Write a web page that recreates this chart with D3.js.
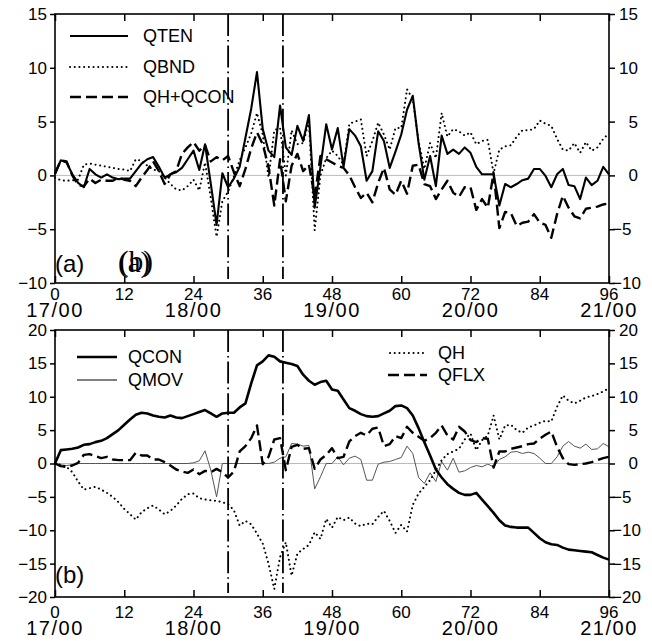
<!DOCTYPE html>
<html>
<head>
<meta charset="utf-8">
<script src="https://cdn.jsdelivr.net/npm/d3@7"></script>
<style>
  body { margin: 0; background: #fff; }
  svg { display: block; }
  text { font-family: "Liberation Sans", Arial, sans-serif; fill: #000; }
</style>
</head>
<body>
<svg width="652" height="641"></svg>
<script>
// hourly values, hour 0 .. 96
const hours = d3.range(0, 97)

// panel (a)
const qten = [0.1, 1.4, 1.2, 0.1, -0.7, -1.1, 0.6, 0.1, -0.2, 0.1, -0.2, -0.35, -0.3, -0.3, 0.4, 1.1, 1.5, 1.7, 0.8, -0.2,
  0.1, 0.3, 0.7, 1.5, 2.3, 0.5, 2.9, -0.8, -4.6, 0.2, -1.1, -0.3, 0.8, 3.5, 6.2, 9.6, 4.3, 2.3, 1.7, 6.5,
  2.6, 1.9, 4.6, 3.2, 5.6, -3.0, 0.8, 4.75, 2.4, 4.4, 0.8, 4.3, 3.7, 2.7, -0.5, 0.4, 4.1, 3.2, 0.7, 2.2,
  3.8, 6.1, 7.4, 3.0, -0.4, 1.8, -1.0, 3.7, 2.0, 2.4, 2.0, 2.6, 2.1, 0.8, 0.1, 0.1, 0.1, -2.8, -0.8, -1.1,
  -0.8, -0.45, -0.3, 0.6, 0.6, -0.05, -1.1, 0.1, 0.6, -0.9, -1.0, -2.2, -0.2, -0.9, -0.5, 0.8, 0.1]
const qbnd = [-0.2, -0.45, -0.5, -0.45, -0.4, 1.0, 1.1, 1.0, 0.9, 0.8, 0.7, 0.6, 0.55, 0.4, 1.5, 1.35, 0.9, 0.55, 0.4, -0.2,
  -0.8, -1.3, -1.4, -1.0, -0.4, -1.4, 1.2, -2.1, -5.7, -2.4, -1.5, -0.1, 1.4, 2.6, 3.9, 5.8, 3.8, -0.2, 4.2, 4.4,
  0.0, 4.2, 2.9, 3.0, 5.0, -5.1, 0.0, 1.6, 2.3, 1.8, 1.0, 4.8, 5.0, 5.2, 1.8, 3.2, 4.9, 3.8, 2.4, 4.4,
  4.4, 8.0, 7.1, 3.2, 0.6, 3.0, 1.6, 5.8, 3.6, 4.3, 4.1, 3.7, 4.0, 2.9, 3.2, 3.3, 0.2, 2.4, 2.7, 2.8,
  3.6, 4.2, 4.2, 4.3, 5.1, 4.8, 4.6, 3.4, 2.4, 2.3, 3.0, 2.1, 3.1, 2.3, 2.6, 3.4, 3.9]
const qhQcon = [0.2, 1.4, 1.3, 0.0, -0.9, -1.0, -0.3, -0.7, -0.4, -0.5, -0.5, -0.2, -0.4, -0.5, -1.0, -0.2, 0.5, 1.3, 0.4, -0.8,
  0.1, 0.4, 2.0, 2.6, 3.1, 2.3, 2.8, 1.3, 1.7, 1.4, 1.8, 0.3, -1.0, 0.6, 2.5, 4.0, 2.9, 0.8, -2.8, 1.5,
  -2.4, 0.9, 2.0, 0.4, 1.0, -2.0, 1.8, 1.5, 1.2, 0.9, 0.7, 0.0, -1.1, -2.1, -1.6, -2.5, -0.7, 0.7, -1.3, -1.8,
  -0.5, -1.7, 0.9, 1.0, -0.8, -1.0, -2.2, -1.3, -0.5, -1.6, -2.0, -1.1, -1.1, -3.2, -2.2, -3.0, 0.2, -4.9, -3.4, -3.5,
  -4.7, -4.4, -4.3, -3.6, -4.4, -4.6, -5.8, -3.6, -1.9, -3.0, -3.8, -4.0, -3.1, -3.0, -2.9, -2.7, -2.6]

// panel (b)
const qcon = [0, 2.0, 2.1, 2.2, 2.4, 2.8, 2.9, 3.2, 3.4, 3.8, 4.4, 5.0, 5.8, 6.6, 7.3, 7.6, 7.5, 7.2, 7.0, 6.9,
  7.2, 6.9, 6.8, 7.1, 7.4, 7.7, 8.0, 7.5, 7.0, 7.5, 7.6, 7.6, 8.4, 9.0, 12.0, 14.7, 15.3, 16.2, 16.0, 15.3,
  15.1, 14.9, 14.6, 13.3, 12.4, 11.8, 12.2, 12.4, 11.1, 10.9, 9.6, 8.3, 7.9, 7.4, 7.1, 7.0, 7.1, 7.5, 7.9, 8.6,
  8.7, 8.3, 7.2, 5.3, 3.2, 1.2, -0.9, -2.1, -3.1, -3.8, -4.4, -4.7, -4.7, -4.4, -5.4, -6.4, -7.4, -8.5, -9.3, -9.5,
  -9.6, -9.6, -9.6, -10.4, -11.2, -11.8, -12.1, -12.2, -12.6, -12.9, -13.0, -13.1, -13.2, -13.3, -13.7, -14.1, -14.4]
const qmov = [0, -0.2, -0.3, -0.2, 0, 0, 0, 0, 0, 0, 0, 0, 0, 0, 0, 0, 0, 0, 0, 0,
  0, 0, 0, 0, 0.1, 0.4, 1.9, -1.0, -5.0, 0.0, 0, 0, 0, 0, 0, 0, 0, 0, 0.2, 0.8,
  1.0, 3.0, 2.9, 2.6, 2.7, -3.8, -2.0, 0.0, 0.0, 1.0, -0.2, 0.8, 1.1, 0.6, -2.5, -2.5, -0.1, 0.2, 0.3, 0.6,
  0.9, 2.6, 1.5, -2.1, -3.0, -1.4, -2.7, 0.3, -1.0, 0.8, -1.3, -1.1, -0.6, -0.3, -0.5, -0.1, -0.5, 0.6, 1.0, 1.7,
  1.8, 1.5, 1.7, 1.5, 0.8, 0.0, 0.0, 1.0, 2.6, 3.3, 2.6, 2.3, 2.9, 2.1, 2.2, 3.0, 2.5]
const qh = [0, -0.2, -0.5, -1.3, -2.7, -3.9, -3.7, -3.5, -3.9, -4.4, -5.0, -5.8, -6.8, -7.6, -8.4, -7.3, -6.7, -6.3, -6.9, -7.6,
  -7.1, -6.3, -5.3, -4.6, -4.5, -5.2, -5.4, -5.5, -5.6, -5.8, -6.1, -7.0, -9.3, -8.6, -9.1, -10.5, -12.0, -15.0, -18.8, -14.0,
  -11.8, -16.8, -13.5, -12.8, -12.2, -10.3, -11.3, -8.3, -9.6, -8.0, -8.5, -8.1, -9.0, -9.4, -9.0, -9.1, -8.0, -7.1, -8.6, -10.4,
  -9.2, -10.2, -6.2, -4.5, -3.5, -2.5, -1.0, 0.5, 1.4, 1.8, 2.2, 3.6, 4.5, 2.0, 3.5, 4.2, 7.2, 3.6, 5.7, 5.8,
  5.0, 4.6, 5.4, 5.7, 6.1, 6.4, 6.3, 8.5, 10.2, 9.4, 9.0, 9.4, 9.9, 10.1, 10.4, 10.8, 11.3]
const qflx = [0, -0.4, -0.5, -0.3, 0.1, 1.3, 1.4, 1.1, 0.8, 1.0, 0.6, 0.5, 0.5, 0.5, 1.6, 1.2, 1.2, 0.6, 0.6, 0.2,
  -0.3, -0.9, -1.2, -1.4, -0.9, -1.6, -1.1, -1.3, -0.8, -1.3, -2.1, -1.2, 1.8, 2.6, 3.8, 5.7, -0.1, 1.0, 3.6, 3.8,
  -1.0, 2.5, 2.8, 2.2, 2.3, -0.8, 0.6, 1.3, 2.3, 0.8, 1.0, 3.3, 4.1, 4.6, 4.2, 5.2, 5.4, 2.6, 2.9, 4.1,
  3.8, 5.5, 4.6, 4.0, 3.4, 3.8, 4.6, 5.7, 4.2, 3.6, 5.5, 4.8, 3.5, 3.2, 3.8, 3.7, -0.6, 1.8, 1.8, 2.2,
  2.4, 2.6, 2.9, 3.0, 3.7, 4.3, 4.8, 2.5, 0.8, -0.1, -0.2, -0.1, 0.0, 0.2, 0.5, 0.8, 1.0]

// axes
const xTicks = [0, 12, 24, 36, 48, 60, 72, 84, 96]
const dateTicks = [0, 24, 48, 72, 96]
const dateLabels = ["17/00", "18/00", "19/00", "20/00", "21/00"]
const yTicksA = [15, 10, 5, 0, -5, -10]
const yTicksB = [20, 15, 10, 5, 0, -5, -10, -15, -20]
const markHours = [30, 39.5]

const svg = d3.select("svg")

const x = d3.scaleLinear().domain([0, 96]).range([55, 609])
const yA = d3.scaleLinear().domain([-10, 15]).range([283, 14])
const yB = d3.scaleLinear().domain([-20, 20]).range([597, 330])

const styles = {
  solid: { width: 2.1, dash: null, color: "#000", cap: "butt" },
  thin: { width: 1, dash: null, color: "#555", cap: "butt" },
  dotted: { width: 2, dash: "0.1,4.6", color: "#000", cap: "round" },
  dashed: { width: 2.4, dash: "11,5", color: "#000", cap: "butt" },
  thick: { width: 2.6, dash: null, color: "#000", cap: "butt" }
}

function drawPanel(y, yTicks, series, numY, dateY) {
  const g = svg.append("g")
  const [top, bottom] = [y.range()[1], y.range()[0]]

  // zero line
  g.append("line")
    .attr("x1", x(0)).attr("x2", x(96))
    .attr("y1", y(0)).attr("y2", y(0))
    .attr("stroke", "#bbb").attr("stroke-width", 1)

  // series
  series.forEach(s => {
    const st = styles[s.style]
    g.append("path")
      .datum(hours)
      .attr("fill", "none")
      .attr("stroke", st.color)
      .attr("stroke-width", st.width)
      .attr("stroke-dasharray", st.dash)
      .attr("stroke-linecap", st.cap)
      .attr("stroke-linejoin", "round")
      .attr("d", d3.line().x(h => x(h)).y(h => y(s.values[h])))
  })

  // dash-dot markers
  g.selectAll(".mark")
    .data(markHours)
    .enter()
    .append("line")
    .attr("x1", d => x(d)).attr("x2", d => x(d))
    .attr("y1", top).attr("y2", bottom - 4)
    .attr("stroke", "#000").attr("stroke-width", 1.8)
    .attr("stroke-dasharray", "22,4,1.6,4")

  // frame
  g.append("rect")
    .attr("x", x(0)).attr("y", top)
    .attr("width", x(96) - x(0)).attr("height", bottom - top)
    .attr("fill", "none").attr("stroke", "#000").attr("stroke-width", 1.6)

  // y axes
  const left = g.append("g").attr("transform", `translate(${x(0)},0)`)
    .call(d3.axisLeft(y).tickValues(yTicks).tickSize(5).tickPadding(3).tickSizeOuter(0))
  const right = g.append("g").attr("transform", `translate(${x(96)},0)`)
    .call(d3.axisRight(y).tickValues(yTicks).tickSize(6).tickSizeOuter(0))
  right.selectAll("text")
    .attr("x", d => d < 0 ? 3 : 29)
    .attr("text-anchor", d => d < 0 ? "start" : "end")

  // x ticks, inward at top and bottom
  const topAx = g.append("g").attr("transform", `translate(0,${top})`)
    .call(d3.axisTop(x).tickValues(xTicks).tickSize(-7).tickFormat(""))
  const botAx = g.append("g").attr("transform", `translate(0,${bottom})`)
    .call(d3.axisBottom(x).tickValues(xTicks).tickSize(-7).tickFormat(""))

  ;[left, right, topAx, botAx].forEach(a => {
    a.select(".domain").remove()
    a.selectAll("line").attr("stroke", "#000").attr("stroke-width", 1.5)
    a.selectAll("text").style("font-family", null).attr("font-size", 17).attr("fill", "#000")
  })

  g.selectAll(".num")
    .data(xTicks)
    .enter()
    .append("text")
    .attr("x", d => x(d)).attr("y", numY)
    .attr("text-anchor", "middle").attr("font-size", 17)
    .text(d => d)

  g.selectAll(".date")
    .data(dateTicks)
    .enter()
    .append("text")
    .attr("x", d => x(d)).attr("y", dateY)
    .attr("text-anchor", "middle").attr("font-size", 20)
    .attr("letter-spacing", 1.5)
    .text((d, i) => dateLabels[i])

  return g
}

function legend(g, items) {
  items.forEach(it => {
    const st = styles[it.style]
    g.append("line")
      .attr("x1", it.x).attr("x2", it.x + it.len)
      .attr("y1", it.y).attr("y2", it.y)
      .attr("stroke", it.style === "thin" ? "#000" : st.color)
      .attr("stroke-width", st.width)
      .attr("stroke-dasharray", st.dash)
      .attr("stroke-linecap", st.cap)
    g.append("text")
      .attr("x", it.x + it.len + it.gap).attr("y", it.y)
      .attr("dy", "0.36em").attr("font-size", 18)
      .text(it.name)
  })
}

const gA = drawPanel(yA, yTicksA, [
  { values: qbnd, style: "dotted" },
  { values: qhQcon, style: "dashed" },
  { values: qten, style: "solid" }
], 300, 317)

const gB = drawPanel(yB, yTicksB, [
  { values: qmov, style: "thin" },
  { values: qh, style: "dotted" },
  { values: qflx, style: "dashed" },
  { values: qcon, style: "thick" }
], 618, 635)

legend(gA, [
  { name: "QTEN", style: "solid", x: 70, y: 36, len: 58, gap: 15 },
  { name: "QBND", style: "dotted", x: 70, y: 67, len: 58, gap: 15 },
  { name: "QH+QCON", style: "dashed", x: 70, y: 97, len: 58, gap: 15 }
])
legend(gB, [
  { name: "QCON", style: "thick", x: 77, y: 357, len: 40, gap: 11 },
  { name: "QMOV", style: "thin", x: 77, y: 380, len: 40, gap: 11 },
  { name: "QH", style: "dotted", x: 390, y: 353, len: 37, gap: 11 },
  { name: "QFLX", style: "dashed", x: 388, y: 375, len: 39, gap: 11 }
])

// panel tags
gA.append("text").attr("x", 55).attr("y", 272).attr("font-size", 24).text("(a)")
gA.append("text").attr("x", 118).attr("y", 272).attr("font-size", 29)
  .style("font-family", "'Liberation Serif', serif").text("(a)")
gA.append("text").attr("x", 119).attr("y", 271).attr("font-size", 29)
  .style("font-family", "'Liberation Serif', serif").text("(b)")
gB.append("text").attr("x", 55).attr("y", 583).attr("font-size", 24).text("(b)")
</script>
</body>
</html>
